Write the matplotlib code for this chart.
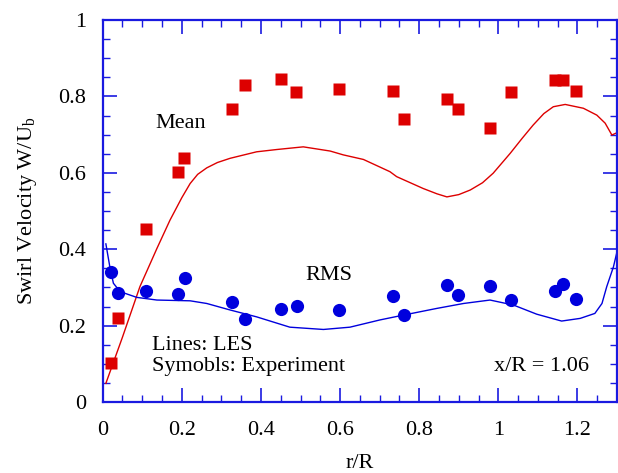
import matplotlib
matplotlib.use("Agg")
import matplotlib.pyplot as plt
from matplotlib.ticker import MultipleLocator

# ── Experiment (symbols) ─────────────────────────────────────────────────────
exp_r = [0.021, 0.039, 0.109, 0.190, 0.206, 0.327, 0.360, 0.450, 0.489, 0.598,
         0.734, 0.762, 0.870, 0.897, 0.979, 1.032, 1.143, 1.164, 1.196]
exp_mean = [0.103, 0.221, 0.453, 0.602, 0.640, 0.768, 0.830, 0.846, 0.812, 0.820,
            0.815, 0.740, 0.793, 0.768, 0.718, 0.812, 0.843, 0.843, 0.815]
rms_r = [0.021, 0.039, 0.109, 0.190, 0.207, 0.327, 0.359, 0.450, 0.490, 0.598,
         0.735, 0.762, 0.870, 0.897, 0.979, 1.032, 1.143, 1.164, 1.196]
exp_rms = [0.340, 0.286, 0.290, 0.283, 0.325, 0.262, 0.217, 0.244, 0.252, 0.241,
           0.277, 0.228, 0.306, 0.279, 0.305, 0.267, 0.290, 0.309, 0.270]

# ── LES (lines) ──────────────────────────────────────────────────────────────
les_mean_r = [0.008, 0.050, 0.094, 0.137, 0.170, 0.200, 0.221, 0.240, 0.263, 0.290,
              0.322, 0.389, 0.440, 0.507, 0.575, 0.608, 0.659, 0.726, 0.743, 0.810,
              0.845, 0.870, 0.900, 0.929, 0.960, 0.987, 1.030, 1.060, 1.088, 1.115,
              1.139, 1.169, 1.215, 1.249, 1.270, 1.287, 1.300]
les_mean = [0.049, 0.170, 0.302, 0.402, 0.476, 0.535, 0.572, 0.596, 0.613, 0.627,
            0.638, 0.655, 0.661, 0.668, 0.657, 0.647, 0.635, 0.603, 0.590, 0.559,
            0.545, 0.537, 0.543, 0.555, 0.574, 0.599, 0.651, 0.690, 0.725, 0.755,
            0.773, 0.779, 0.769, 0.751, 0.730, 0.699, 0.705]
les_rms_r = [0.008, 0.018, 0.027, 0.044, 0.086, 0.137, 0.221, 0.263, 0.322, 0.389,
             0.473, 0.558, 0.625, 0.701, 0.762, 0.844, 0.912, 0.979, 1.038, 1.097,
             1.160, 1.207, 1.244, 1.262, 1.274, 1.291, 1.301]
les_rms = [0.414, 0.354, 0.311, 0.289, 0.274, 0.267, 0.265, 0.258, 0.241, 0.223,
           0.196, 0.190, 0.196, 0.215, 0.228, 0.245, 0.258, 0.267, 0.254, 0.230,
           0.212, 0.219, 0.232, 0.258, 0.302, 0.354, 0.398]

RED = "#dd0000"
BLUE = "#0000dd"
AXC = "#1a1ae0"
FS = 16

plt.rcParams.update({
    "font.family": ["Liberation Serif", "DejaVu Serif"],
    "mathtext.fontset": "custom",
    "mathtext.rm": "Liberation Serif",
    "mathtext.it": "Liberation Serif:italic",
    "font.size": FS,
})

fig = plt.figure(figsize=(6.18, 4.73), dpi=100)
ax = fig.add_axes([0.1662, 0.150, 0.8322, 0.8077])

ax.plot(les_mean_r, les_mean, color=RED, lw=1.0, zorder=2)
ax.plot(les_rms_r, les_rms, color=BLUE, lw=1.0, zorder=2)
ax.plot(exp_r, exp_mean, "s", color=RED, ms=8.5, mec="none", zorder=3)
ax.plot(rms_r, exp_rms, "o", color=BLUE, ms=9.5, mec="none", zorder=3)

ax.set_xlim(0, 1.3)
ax.set_ylim(0, 1)
ax.xaxis.set_major_locator(MultipleLocator(0.2))
ax.xaxis.set_minor_locator(MultipleLocator(0.05))
ax.yaxis.set_major_locator(MultipleLocator(0.2))
ax.yaxis.set_minor_locator(MultipleLocator(0.05))
ax.xaxis.set_major_formatter(plt.FuncFormatter(lambda v, _: f"{v:g}"))
ax.yaxis.set_major_formatter(plt.FuncFormatter(lambda v, _: f"{v:g}"))

for s in ax.spines.values():
    s.set_color(AXC)
    s.set_linewidth(1.6)
ax.tick_params(which="both", direction="in", top=True, right=True,
               color=AXC, labelcolor="black")
ax.tick_params(which="major", length=10, width=1.2, labelsize=FS, pad=14)
ax.tick_params(which="minor", length=5, width=1.0)
ax.tick_params(axis="y", which="major", pad=12)

ax.set_xlabel("r/R", fontsize=FS, labelpad=10)
ax.set_ylabel("Swirl Velocity W/U$_\\mathrm{b}$", fontsize=FS, labelpad=14)

ax.text(0.198, 0.728, "Mean", ha="center", va="center")
ax.text(0.572, 0.33, "RMS", ha="center", va="center")
ax.text(0.124, 0.147, "Lines: LES", ha="left", va="center")
ax.text(0.124, 0.094, "Symobls: Experiment", ha="left", va="center")
ax.text(1.23, 0.094, "x/R = 1.06", ha="right", va="center")

fig.savefig("out.png", dpi=100)
